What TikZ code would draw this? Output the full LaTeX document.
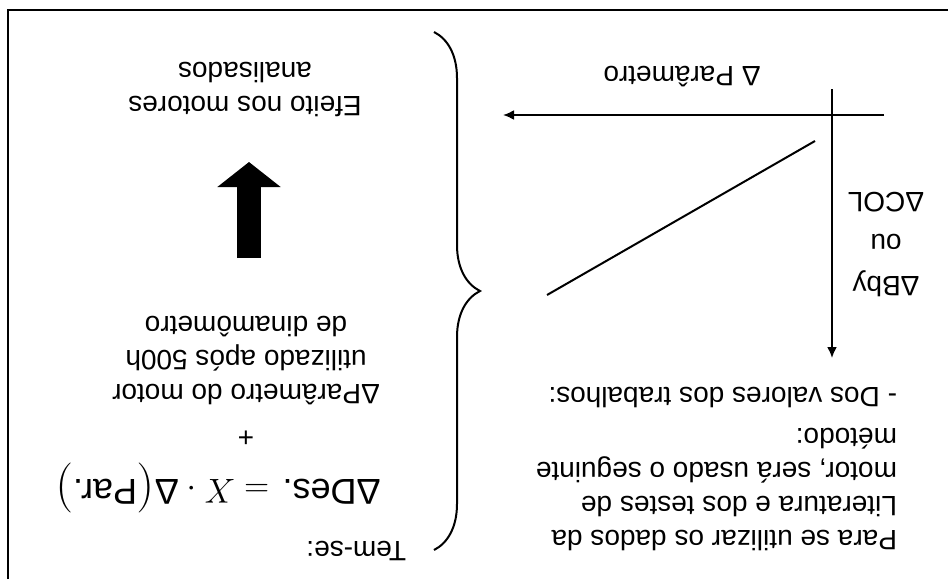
\documentclass[tikz,border=0pt]{standalone}
\usepackage{fontspec}
\setmainfont{Liberation Sans}
\newfontfamily\lmfont{Latin Modern Roman}
\newcommand{\bigpar}[1]{\raisebox{-2.2pt}{\lmfont\fontsize{25}{25}\selectfont #1}}
\usetikzlibrary{arrows.meta,decorations.pathreplacing}
\tikzset{
  txt/.style={rotate=180,inner sep=0pt,font=\fontsize{14}{17}\selectfont},
  eqtxt/.style={rotate=180,inner sep=0pt,font=\fontsize{18}{22}\selectfont},
  axis/.style={line width=1pt,-{Latex[length=5.5pt,width=5pt]}},
  bigarrow/.style={line width=12pt,line cap=butt,-{Triangle[length=12.5pt,width=31pt]}},
}
\begin{document}
\begin{tikzpicture}[x=0.5pt,y=0.5pt,line width=1pt]
	\useasboundingbox (0,0) rectangle (948,-579);
	% frame and brace
	\draw (8,-579) -- (8,-10) -- (948,-10);
	\draw[decorate,decoration={brace,amplitude=23pt}] (434,-32) -- (434,-550);
	% graph
	\coordinate (yTop) at (832,-89); \coordinate (yEnd) at (832,-358);
	\coordinate (xTop) at (884,-115); \coordinate (xEnd) at (503,-115);
	\coordinate (lnA) at (815,-141); \coordinate (lnB) at (547,-295);
	\draw[axis] (yTop) -- (yEnd);
	\draw[axis] (xTop) -- (xEnd);
	\draw (lnA) -- (lnB);
	\node[txt] (param) at (682,-77) {Δ Parâmetro};
	\node[txt,align=center,font=\fontsize{14}{21}\selectfont] (bby) at (886,-245) {ΔBby\\ou\\ΔCOL};
	% texts on the right
	\node[txt,align=left,anchor=west] (para) at (898,-490) {Para se utilizar os dados da\\Literatura e dos testes de\\motor, será usado o seguinte\\método:};
	\node[txt,anchor=west] (dos) at (898,-397) {- Dos valores dos trabalhos:};
	% texts on the left
	\node[txt,anchor=west] (tem) at (407,-551) {Tem-se:};
	\node[eqtxt] (eq) at (218,-488) {ΔDes. $= X\cdot{}$Δ\bigpar{(}Par.\bigpar{)}};
	\node[txt] (plus) at (246,-437) {+};
	\node[txt,align=center] (motor) at (246,-361) {ΔParâmetro do motor\\utilizado após 500h\\de dinamômetro};
	\node[txt,align=center] (efeito) at (245,-90) {Efeito nos motores\\analisados};
	\coordinate (bigTail) at (249,-258); \coordinate (bigTip) at (249,-162);
	\draw[bigarrow] (bigTail) -- (bigTip);
\end{tikzpicture}
\end{document}
